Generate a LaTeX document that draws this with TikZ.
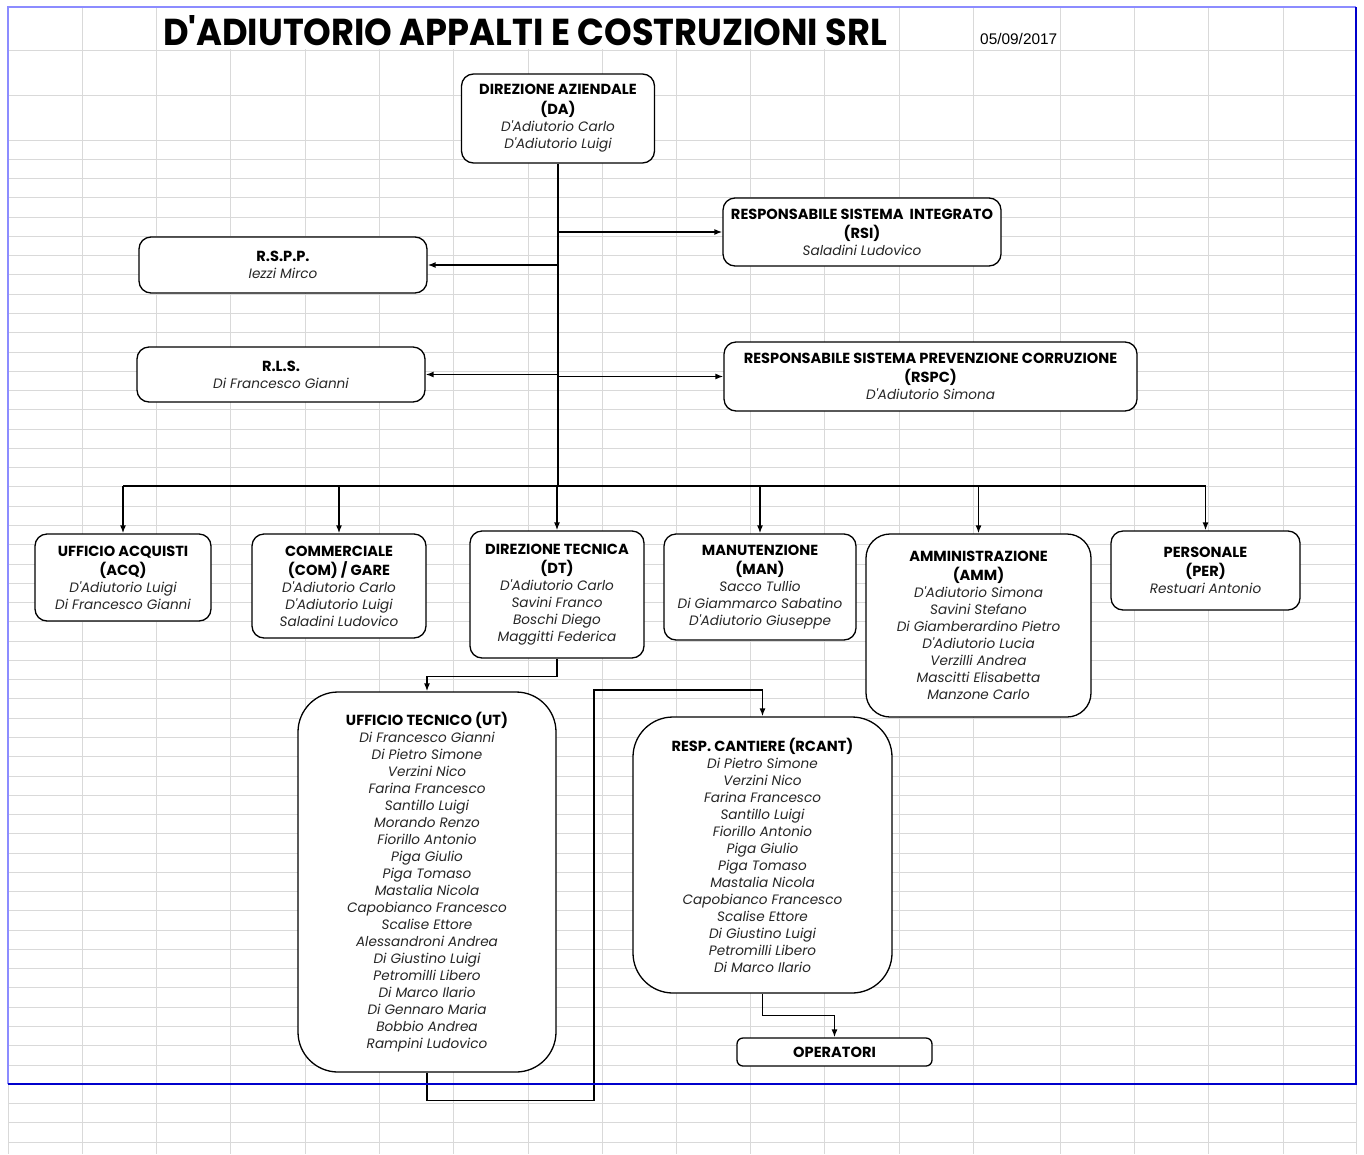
\documentclass[tikz,border=0pt]{standalone}
\usepackage{fontspec}
\setmainfont{Poppins}[Ligatures=TeXOff]
\newfontfamily\datafont{Liberation Sans}
\usepackage{graphicx}
\usetikzlibrary{positioning,arrows.meta}

\newcommand{\capo}[1]{{\fontsize{14.6}{17}\selectfont\bfseries #1}}
\newcommand{\nome}[1]{{\itshape\color{black!85}#1}}

\begin{document}
\begin{tikzpicture}[x=1pt,y=-1pt,
    ufficio/.style={draw,line width=1.3pt,fill=white,rounded corners=12pt,align=center,inner sep=0pt,font=\fontsize{13.6}{17}\selectfont},
    griglia/.style={color=black!15,line width=0.8pt},
    linea/.style={line width=1.4pt},
    freccia/.style={line width=1.4pt,-{Latex[length=8pt,width=6pt]}}]
    \useasboundingbox (0,0) rectangle (1364,1154);

    % Foglio
    \foreach \gx in {8,82,156,230,305,379,453,528,602,676,750,824,899,973,1060,1134,1208,1283,1356}
        \draw[griglia] (\gx,7) -- (\gx,1154);
    \draw[griglia] (8,50) -- (1356,50);
    \draw[griglia] (8,95) -- (1356,95);
    \foreach \k in {0,...,52}
        \draw[griglia] (8,140+19.27*\k) -- (1356,140+19.27*\k);
    \fill[white] (157,8) rectangle (898,49.4);

    % Titolo
    \node[anchor=base,inner sep=0pt] (titolo) at (525,45) {\resizebox{724pt}{30pt}{\bfseries D'ADIUTORIO APPALTI E COSTRUZIONI SRL}};
    \node[anchor=base west,inner sep=0pt] (data) at (980,44) {\datafont\fontsize{15.4}{18}\selectfont 05/09/2017};

    % Uffici
    \node[ufficio,minimum width=193pt,minimum height=89pt] (da) at (558,118.5)
        {\capo{DIREZIONE AZIENDALE}\\[3pt] \capo{(DA)}\\ \nome{D'Adiutorio Carlo}\\ \nome{D'Adiutorio Luigi}};
    \node[ufficio,minimum width=278pt,minimum height=68pt] (rsi) at (862,232)
        {\capo{RESPONSABILE SISTEMA\ \ INTEGRATO}\\[2pt] \capo{(RSI)}\\ \nome{Saladini Ludovico}};
    \node[ufficio,minimum width=413pt,minimum height=69pt] (rspc) at (930.5,376.5)
        {\capo{RESPONSABILE SISTEMA PREVENZIONE CORRUZIONE}\\[2pt] \capo{(RSPC)}\\ \nome{D'Adiutorio Simona}};
    \node[ufficio,minimum width=288pt,minimum height=56pt] (rspp) at (283,265)
        {\capo{R.S.P.P.}\\ \nome{Iezzi Mirco}};
    \node[ufficio,minimum width=288pt,minimum height=55pt] (rls) at (281,374.5)
        {\capo{R.L.S.}\\ \nome{Di Francesco Gianni}};

    \node[ufficio,minimum width=176pt,minimum height=87pt] (acq) at (123,577.5)
        {\capo{UFFICIO ACQUISTI}\\[2pt] \capo{(ACQ)}\\ \nome{D'Adiutorio Luigi}\\ \nome{Di Francesco Gianni}};
    \node[ufficio,minimum width=174pt,minimum height=104pt] (com) at (339,586)
        {\capo{COMMERCIALE}\\[2pt] \capo{(COM) / GARE}\\ \nome{D'Adiutorio Carlo}\\ \nome{D'Adiutorio Luigi}\\ \nome{Saladini Ludovico}};
    \node[ufficio,minimum width=174pt,minimum height=127pt] (dt) at (557,594.5)
        {\capo{DIREZIONE TECNICA}\\[2pt] \capo{(DT)}\\ \nome{D'Adiutorio Carlo}\\ \nome{Savini Franco}\\ \nome{Boschi Diego}\\ \nome{Maggitti Federica}};
    \node[ufficio,minimum width=192pt,minimum height=106pt] (man) at (760,587)
        {\capo{MANUTENZIONE}\\[2pt] \capo{(MAN)}\\ \nome{Sacco Tullio}\\ \nome{Di Giammarco Sabatino}\\ \nome{D'Adiutorio Giuseppe}};
    \node[ufficio,rounded corners=24pt,minimum width=225pt,minimum height=183pt] (amm) at (978.5,625.5)
        {\capo{AMMINISTRAZIONE}\\[2pt] \capo{(AMM)}\\ \nome{D'Adiutorio Simona}\\ \nome{Savini Stefano}\\ \nome{Di Giamberardino Pietro}\\ \nome{D'Adiutorio Lucia}\\ \nome{Verzilli Andrea}\\ \nome{Mascitti Elisabetta}\\ \nome{Manzone Carlo}};
    \node[ufficio,minimum width=189pt,minimum height=79pt] (per) at (1205.5,570.5)
        {\capo{PERSONALE}\\[2pt] \capo{(PER)}\\ \nome{Restuari Antonio}};

    \node[ufficio,rounded corners=40pt,minimum width=258pt,minimum height=380pt] (ut) at (427,882)
        {\capo{UFFICIO TECNICO (UT)}\\ \nome{Di Francesco Gianni}\\ \nome{Di Pietro Simone}\\ \nome{Verzini Nico}\\ \nome{Farina Francesco}\\ \nome{Santillo Luigi}\\ \nome{Morando Renzo}\\ \nome{Fiorillo Antonio}\\ \nome{Piga Giulio}\\ \nome{Piga Tomaso}\\ \nome{Mastalia Nicola}\\ \nome{Capobianco Francesco}\\ \nome{Scalise Ettore}\\ \nome{Alessandroni Andrea}\\ \nome{Di Giustino Luigi}\\ \nome{Petromilli Libero}\\ \nome{Di Marco Ilario}\\ \nome{Di Gennaro Maria}\\ \nome{Bobbio Andrea}\\ \nome{Rampini Ludovico}};
    \node[ufficio,rounded corners=40pt,minimum width=259pt,minimum height=276pt] (rcant) at (762.5,855)
        {\capo{RESP. CANTIERE (RCANT)}\\ \nome{Di Pietro Simone}\\ \nome{Verzini Nico}\\ \nome{Farina Francesco}\\ \nome{Santillo Luigi}\\ \nome{Fiorillo Antonio}\\ \nome{Piga Giulio}\\ \nome{Piga Tomaso}\\ \nome{Mastalia Nicola}\\ \nome{Capobianco Francesco}\\ \nome{Scalise Ettore}\\ \nome{Di Giustino Luigi}\\ \nome{Petromilli Libero}\\ \nome{Di Marco Ilario}};
    \node[ufficio,rounded corners=6pt,minimum width=195pt,minimum height=28pt] (oper) at (834.5,1052)
        {\capo{OPERATORI}};

    % Collegamenti
    \coordinate (bus) at (558,486);
    \draw[line width=2.6pt] (da.south) -- (bus);
    \draw[freccia] (da.south |- rsi.west) -- (rsi.west);
    \draw[freccia] (da.south |- rspp.east) -- (rspp.east);
    \draw[freccia] (da.south |- rls.east) -- (rls.east);
    \draw[freccia] (da.south |- rspc.west) -- (rspc.west);
    \draw[linea] (acq.north |- bus) -- (per.north |- bus);
    \foreach \u in {acq,com,dt,man,amm,per}
        \draw[freccia] (\u.north |- bus) -- (\u.north);

    \coordinate (ritorno) at (594,690);
    \draw[freccia] (dt.south) -- ++(0,18) -| (ut.north);
    \draw[freccia] (ut.south) -- ++(0,28) -| (ritorno) -| (rcant.north);
    \draw[freccia] (rcant.south) -- ++(0,22) -| (oper.north);

    % Area di stampa
    \draw[blue!45,line width=1.2pt] (8,1084) -- (8,7) -- (1356,7);
    \draw[blue!80!black,line width=2pt] (8,1084) -- (1356,1084) -- (1356,7);
\end{tikzpicture}
\end{document}
